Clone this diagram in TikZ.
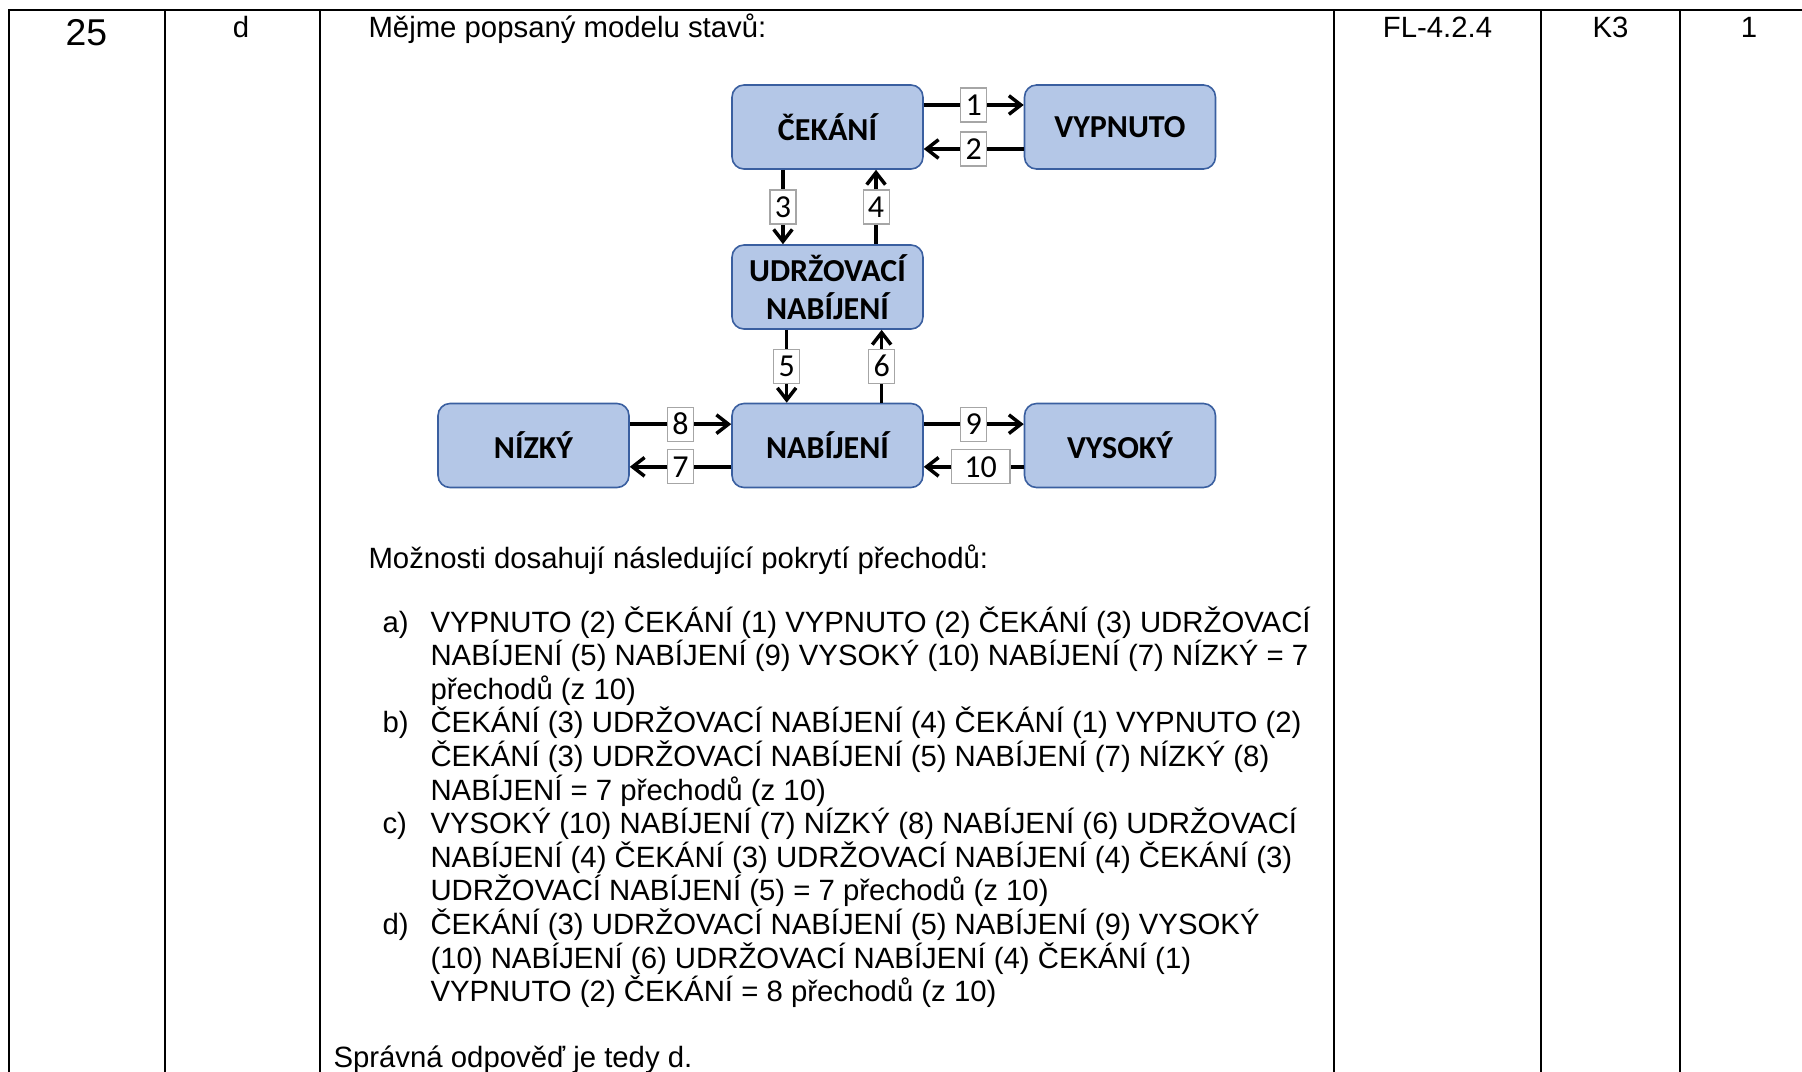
\documentclass[tikz,border=0pt]{standalone}
\usepackage{fontspec}
\setmainfont{Liberation Sans}
\newfontfamily\calibri{Carlito}
\usetikzlibrary{arrows.meta}
\usetikzlibrary{positioning}

\definecolor{statefill}{HTML}{B4C7E7}
\definecolor{stateborder}{HTML}{3A5FA0}
\definecolor{lblgray}{HTML}{A6A6A6}

\tikzset{
  state/.style={draw=stateborder, fill=statefill, rounded corners=4.5pt,
    line width=0.6pt, minimum width=71.6pt, minimum height=31.5pt,
    inner sep=0pt, align=center,
    font=\calibri\bfseries\fontsize{12}{14.2}\selectfont},
  trans/.style={-{Straight Barb[length=4.5pt,width=7pt]}, line width=1.3pt},
  numlbl/.style={draw=lblgray, fill=white, line width=0.4pt, inner sep=0pt,
    minimum width=9.75pt, minimum height=12.75pt,
    font=\calibri\fontsize{12}{13}\selectfont},
  body/.style={inner sep=0pt, font=\fontsize{11}{13}\selectfont},
  tableline/.style={line width=0.75pt}
}

\begin{document}
\begin{tikzpicture}[x=0.375pt, y=-0.375pt]
    \useasboundingbox (0,0) rectangle (1802,1072);

    % table frame
    \draw[tableline] (9,1072) -- (9,10) -- (1802,10);
    \foreach \cx in {165,320,1334,1541,1680}
        \draw[tableline] (\cx,10) -- (\cx,1072);

    % cells
    \node[body, font=\fontsize{14}{16}\selectfont, anchor=base] (num) at (86.5,45.7) {25};
    \node[body, anchor=base] (answer) at (241,37) {d};
    \node[body, anchor=base] (code) at (1437.5,37) {FL-4.2.4};
    \node[body, anchor=base] (level) at (1610.5,37) {K3};
    \node[body, anchor=base] (points) at (1749,37) {1};

    \node[body, anchor=base west] (intro) at (368,37) {Mějme popsaný modelu stavů:};

    % states
    \node[state] (cekani) at (827.5,127) {ČEKÁNÍ};
    \node[state] (vypnuto) at (1120,127) {VYPNUTO};
    \node[state] (udrz) at (827.5,287) {UDRŽOVACÍ\\NABÍJENÍ};
    \node[state] (nabijeni) at (827.5,445.5) {NABÍJENÍ};
    \node[state] (nizky) at (533.5,445.5) {NÍZKÝ};
    \node[state] (vysoky) at (1120,445.5) {VYSOKÝ};

    % transitions
    \draw[trans] ([yshift=8.25pt]cekani.east) -- node[numlbl] (l1) {1} ([yshift=8.25pt]vypnuto.west);
    \draw[trans] ([yshift=-8.25pt]vypnuto.west) -- node[numlbl] (l2) {2} ([yshift=-8.25pt]cekani.east);
    \draw[trans] ([xshift=-16.7pt]cekani.south) -- node[numlbl] (l3) {3} ([xshift=-16.7pt]udrz.north);
    \draw[trans] ([xshift=18.2pt]udrz.north) -- node[numlbl] (l4) {4} ([xshift=18.2pt]cekani.south);
    \draw[trans] ([xshift=-15.3pt]udrz.south) -- node[numlbl] (l5) {5} ([xshift=-15.3pt]nabijeni.north);
    \draw[trans] ([xshift=20.3pt]nabijeni.north) -- node[numlbl] (l6) {6} ([xshift=20.3pt]udrz.south);
    \draw[trans] ([yshift=8pt]nizky.east) -- node[numlbl] (l8) {8} ([yshift=8pt]nabijeni.west);
    \draw[trans] ([yshift=-8pt]nabijeni.west) -- node[numlbl] (l7) {7} ([yshift=-8pt]nizky.east);
    \draw[trans] ([yshift=8pt]nabijeni.east) -- node[numlbl] (l9) {9} ([yshift=8pt]vysoky.west);
    \draw[trans] ([yshift=-8pt]vysoky.west) -- node[numlbl, minimum width=22pt, xshift=2.6pt] (l10) {10} ([yshift=-8pt]nabijeni.east);

    % options
    \node[body, anchor=base west] (options) at (368,568) {Možnosti dosahují následující pokrytí přechodů:};
    \foreach \lbl [count=\k from 0] in {a),b),c),d)}
        \node[body, anchor=base west] (item\k) at (382,632+100.8*\k) {\lbl};
    \foreach \txt [count=\k from 0] in {
        VYPNUTO (2) ČEKÁNÍ (1) VYPNUTO (2) ČEKÁNÍ (3) UDRŽOVACÍ,
        NABÍJENÍ (5) NABÍJENÍ (9) VYSOKÝ (10) NABÍJENÍ (7) NÍZKÝ = 7,
        přechodů (z 10),
        ČEKÁNÍ (3) UDRŽOVACÍ NABÍJENÍ (4) ČEKÁNÍ (1) VYPNUTO (2),
        ČEKÁNÍ (3) UDRŽOVACÍ NABÍJENÍ (5) NABÍJENÍ (7) NÍZKÝ (8),
        NABÍJENÍ = 7 přechodů (z 10),
        VYSOKÝ (10) NABÍJENÍ (7) NÍZKÝ (8) NABÍJENÍ (6) UDRŽOVACÍ,
        NABÍJENÍ (4) ČEKÁNÍ (3) UDRŽOVACÍ NABÍJENÍ (4) ČEKÁNÍ (3),
        UDRŽOVACÍ NABÍJENÍ (5) = 7 přechodů (z 10),
        ČEKÁNÍ (3) UDRŽOVACÍ NABÍJENÍ (5) NABÍJENÍ (9) VYSOKÝ,
        (10) NABÍJENÍ (6) UDRŽOVACÍ NABÍJENÍ (4) ČEKÁNÍ (1),
        VYPNUTO (2) ČEKÁNÍ = 8 přechodů (z 10)}
        \node[body, anchor=base west] (line\k) at (430,632+33.6*\k) {\txt};

    \node[body, anchor=base west] (result) at (333,1067) {Správná odpověď je tedy d.};
\end{tikzpicture}
\end{document}
